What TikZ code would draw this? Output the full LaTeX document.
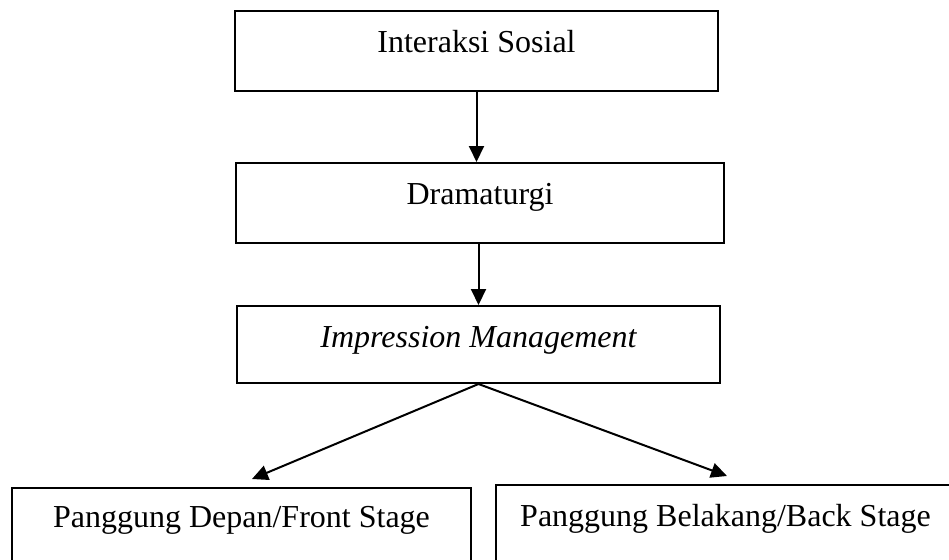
\documentclass[tikz,border=0pt]{standalone}
\usepackage{fontspec}
\setmainfont{Liberation Serif}
\usepackage{tikz}
\usetikzlibrary{positioning}
\usetikzlibrary{arrows.meta}

\begin{document}
\begin{tikzpicture}[x=1pt, y=-1pt, node distance=150pt, on grid,
      every node/.style={font=\fontsize{32}{38}\selectfont},
      box/.style={draw, line width=2pt, inner sep=0pt, text height=41pt, text depth=39pt},
      arr/.style={-{Triangle[length=16pt,width=15pt]}, line width=2pt}]

      \clip (0,0) rectangle (949,559);

      \node[box, minimum width=483pt] (inter) at (476.5,51.5) {Interaksi Sosial};
      \node[box, minimum width=488pt] (drama) [below=of inter, yshift=-1.5pt, xshift=3.5pt] {Dramaturgi};
      \node[box, minimum width=483pt, text depth=36pt] (imp) [below=of drama, yshift=8.5pt, xshift=-1.5pt] {\itshape Impression Management};

      \node[box, minimum width=459pt, text height=39pt, text depth=40pt] (front) [below=of imp, yshift=-33pt, xshift=-237pt] {Panggung Depan/Front Stage};
      \node[box, minimum width=459pt, text depth=40pt] (back) [below=of imp, yshift=-31pt, xshift=247pt] {Panggung Belakang/Back Stage};

      \draw[arr] (inter.south) -- (inter.south |- drama.north);
      \draw[arr] (imp.north |- drama.south) -- (imp.north);
      \draw[arr] (imp.south) -- ([xshift=10.5pt, yshift=8pt]front.north);
      \draw[arr] (imp.south) -- ([xshift=1.5pt, yshift=8pt]back.north);

\end{tikzpicture}
\end{document}
